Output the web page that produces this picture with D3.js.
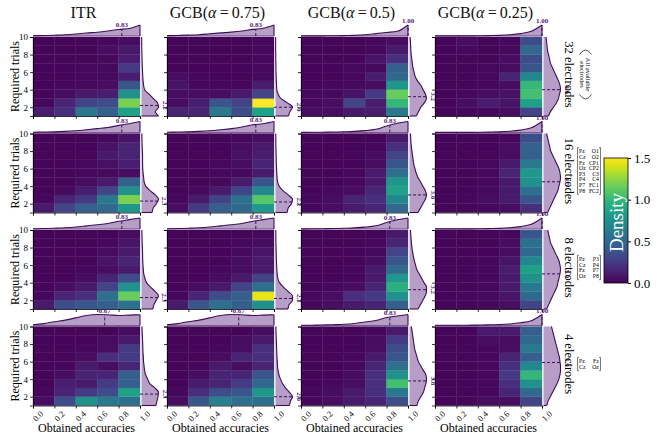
<!DOCTYPE html>
<html><head><meta charset="utf-8">
<script src="https://cdn.jsdelivr.net/npm/d3@7"></script>
<style>body{margin:0;background:#fff}svg text{font-family:"Liberation Serif",serif}</style>
</head><body><svg id="c" width="665" height="440"></svg>
<script>
// ---------- data ----------
const methods = ["ITR", "GCB(α = 0.75)", "GCB(α = 0.5)", "GCB(α = 0.25)"];
const electrodeSets = ["32 electrodes", "16 electrodes", "8 electrodes", "4 electrodes"];
const accTicks = [0.0, 0.2, 0.4, 0.6, 0.8, 1.0];
const trialTicks = [2, 4, 6, 8, 10];
const cbTicks = [0.0, 0.5, 1.0, 1.5];
const accSamples = [0, 0.1, 0.2, 0.3, 0.4, 0.5, 0.6, 0.7, 0.8, 0.9, 1.0];
const trialSamples = [1, 1.5, 2, 2.5, 3, 3.5, 4, 4.5, 5, 5.5, 6, 6.5, 7, 7.5, 8, 8.5, 9, 9.5, 10];
const matrix16 = [["Pz","O1"],["Cz","O2"],["Fz","CP1"],["Oz","CP2"],["P3","C3"],["P4","C4"],["P7","FC1"],["P8","FC2"]];
const matrix8 = [["Pz","P3"],["Cz","P4"],["Fz","P7"],["Oz","P8"]];
const matrix4 = [["Pz","Fz"],["Cz","Oz"]];

// heatmaps: rows = trials 1-2 (bottom) ... 9-10 (top); columns = accuracy bins 0-0.2 ... 0.8-1.0
const heatITR32 = [[0.12,0.20,0.60,0.45,0.85],[0.03,0.15,0.30,0.35,1.20],[0.02,0.05,0.10,0.12,0.75],[0.02,0.03,0.04,0.05,0.40],[0.02,0.02,0.03,0.04,0.12],[0.02,0.02,0.03,0.04,0.25],[0.02,0.02,0.02,0.04,0.12],[0.02,0.02,0.02,0.05,0.10],[0.02,0.02,0.02,0.03,0.05]];
const heatG75_32 = [[0.15,0.15,0.60,0.35,0.85],[0.05,0.12,0.40,0.30,1.50],[0.05,0.05,0.05,0.10,0.30],[0.08,0.03,0.03,0.03,0.12],[0.05,0.03,0.02,0.02,0.04],[0.02,0.02,0.02,0.02,0.03],[0.02,0.02,0.02,0.02,0.03],[0.02,0.02,0.02,0.02,0.03],[0.02,0.02,0.02,0.02,0.03]];
const heatG50_32 = [[0.05,0.05,0.10,0.12,0.60],[0.03,0.05,0.30,0.12,1.00],[0.03,0.04,0.08,0.25,1.15],[0.02,0.03,0.04,0.05,0.80],[0.02,0.02,0.03,0.12,0.50],[0.02,0.02,0.03,0.04,0.45],[0.02,0.02,0.02,0.08,0.20],[0.02,0.02,0.02,0.03,0.10],[0.02,0.02,0.02,0.03,0.05]];
const heatG25_32 = [[0.02,0.03,0.03,0.05,0.30],[0.02,0.05,0.12,0.08,0.85],[0.02,0.03,0.05,0.07,1.05],[0.02,0.02,0.03,0.05,1.00],[0.02,0.02,0.03,0.15,0.70],[0.02,0.02,0.03,0.05,0.40],[0.02,0.02,0.02,0.05,0.35],[0.02,0.03,0.02,0.04,0.50],[0.02,0.05,0.02,0.03,0.35]];

const heatITR16 = [[0.10,0.30,0.45,0.50,0.80],[0.03,0.15,0.25,0.60,1.20],[0.02,0.04,0.12,0.30,0.75],[0.02,0.02,0.05,0.10,0.45],[0.02,0.02,0.03,0.04,0.05],[0.02,0.02,0.03,0.06,0.12],[0.02,0.02,0.02,0.10,0.15],[0.02,0.02,0.02,0.08,0.15],[0.02,0.02,0.02,0.03,0.08]];
const heatG75_16 = [[0.05,0.25,0.45,0.50,0.80],[0.03,0.10,0.30,0.55,1.10],[0.02,0.04,0.10,0.30,0.70],[0.02,0.02,0.04,0.10,0.40],[0.02,0.02,0.03,0.04,0.10],[0.02,0.02,0.03,0.05,0.15],[0.02,0.02,0.02,0.06,0.12],[0.02,0.02,0.02,0.05,0.10],[0.02,0.02,0.02,0.03,0.05]];
const heatG50_16 = [[0.03,0.05,0.10,0.15,0.50],[0.03,0.05,0.15,0.20,0.70],[0.02,0.03,0.05,0.15,0.85],[0.02,0.02,0.03,0.10,0.80],[0.02,0.02,0.03,0.10,0.55],[0.02,0.02,0.02,0.05,0.40],[0.02,0.02,0.02,0.05,0.30],[0.02,0.02,0.02,0.03,0.20],[0.02,0.02,0.02,0.02,0.10]];
const heatG25_16 = [[0.02,0.02,0.03,0.05,0.20],[0.02,0.03,0.05,0.10,0.40],[0.02,0.02,0.04,0.10,0.55],[0.02,0.02,0.03,0.10,0.75],[0.02,0.02,0.03,0.15,0.80],[0.02,0.02,0.03,0.10,0.60],[0.02,0.02,0.02,0.05,0.45],[0.02,0.02,0.02,0.05,0.45],[0.02,0.02,0.02,0.03,0.35]];

const heatITR8 = [[0.10,0.35,0.40,0.45,0.55],[0.03,0.15,0.20,0.55,1.15],[0.02,0.05,0.10,0.30,0.75],[0.02,0.02,0.05,0.15,0.35],[0.02,0.02,0.03,0.05,0.10],[0.02,0.02,0.02,0.08,0.15],[0.02,0.02,0.02,0.05,0.10],[0.02,0.02,0.02,0.03,0.08],[0.02,0.02,0.02,0.02,0.05]];
const heatG75_8 = [[0.10,0.40,0.55,0.45,0.75],[0.03,0.15,0.35,0.45,1.45],[0.02,0.05,0.10,0.30,0.55],[0.02,0.02,0.05,0.10,0.30],[0.02,0.02,0.03,0.05,0.10],[0.02,0.02,0.02,0.05,0.10],[0.02,0.02,0.02,0.04,0.08],[0.02,0.02,0.02,0.03,0.05],[0.02,0.02,0.02,0.02,0.04]];
const heatG50_8 = [[0.03,0.05,0.10,0.15,0.45],[0.03,0.05,0.20,0.25,0.75],[0.02,0.03,0.05,0.15,0.95],[0.02,0.02,0.03,0.10,0.80],[0.02,0.02,0.03,0.10,0.50],[0.02,0.02,0.02,0.05,0.40],[0.02,0.02,0.02,0.04,0.30],[0.02,0.02,0.02,0.03,0.15],[0.02,0.02,0.02,0.02,0.10]];
const heatG25_8 = [[0.02,0.02,0.03,0.05,0.30],[0.02,0.03,0.04,0.08,0.50],[0.02,0.02,0.03,0.10,0.60],[0.02,0.02,0.03,0.10,0.75],[0.02,0.02,0.03,0.12,0.85],[0.02,0.02,0.03,0.08,0.70],[0.02,0.02,0.02,0.05,0.50],[0.02,0.02,0.02,0.05,0.55],[0.02,0.02,0.02,0.03,0.40]];

const heatITR4 = [[0.05,0.35,0.75,0.60,0.55],[0.03,0.15,0.25,0.35,0.85],[0.02,0.12,0.10,0.25,0.45],[0.02,0.05,0.15,0.15,0.45],[0.02,0.03,0.10,0.05,0.15],[0.02,0.02,0.05,0.20,0.25],[0.02,0.02,0.03,0.05,0.25],[0.02,0.02,0.02,0.05,0.10],[0.02,0.02,0.02,0.02,0.05]];
const heatG75_4 = [[0.05,0.40,0.65,0.55,0.55],[0.03,0.20,0.35,0.40,0.80],[0.02,0.10,0.15,0.25,0.50],[0.02,0.05,0.15,0.15,0.40],[0.02,0.03,0.10,0.05,0.15],[0.02,0.02,0.05,0.15,0.20],[0.02,0.02,0.03,0.05,0.20],[0.02,0.02,0.02,0.05,0.10],[0.02,0.02,0.02,0.02,0.05]];
const heatG50_4 = [[0.03,0.05,0.10,0.15,0.35],[0.03,0.05,0.10,0.20,0.60],[0.02,0.03,0.05,0.20,1.05],[0.02,0.02,0.05,0.20,0.75],[0.02,0.02,0.03,0.15,0.55],[0.02,0.02,0.03,0.10,0.40],[0.02,0.02,0.02,0.05,0.35],[0.02,0.02,0.02,0.05,0.25],[0.02,0.02,0.02,0.03,0.10]];
const heatG25_4 = [[0.02,0.02,0.05,0.05,0.30],[0.02,0.02,0.03,0.15,0.50],[0.02,0.02,0.03,0.20,0.75],[0.02,0.02,0.03,0.25,1.00],[0.02,0.02,0.03,0.20,0.70],[0.02,0.02,0.03,0.15,0.45],[0.02,0.02,0.03,0.05,0.60],[0.02,0.02,0.05,0.05,0.50],[0.02,0.02,0.10,0.10,0.45]];

// marginal densities (top: over accSamples, right: over trialSamples)
const topITR32 = [0.3,0.5,0.8,1.2,2.0,3.0,3.8,5.0,6.5,7.5,11];
const topG75_32 = [0.3,0.5,0.8,1.2,2.0,2.8,3.5,4.5,6.0,7.0,10];
const topG50_32 = [0.1,0.1,0.2,0.3,0.5,0.8,1.5,3.0,4.5,6.0,14];
const topG25_32 = [0.1,0.1,0.2,0.2,0.3,0.5,0.8,1.5,3.0,6.0,14];
const topITR16 = [0.2,0.4,0.6,1.0,1.6,2.5,3.5,4.5,6.5,8.0,10];
const topG75_16 = [0.2,0.4,0.6,1.0,1.6,2.5,3.5,5.0,7.0,8.0,10];
const topG50_16 = [0.1,0.2,0.3,0.5,0.8,1.2,2.0,3.5,7.0,10,12];
const topG25_16 = [0.1,0.1,0.2,0.2,0.3,0.5,0.8,1.5,3.0,6.0,14];
const topITR8 = [0.2,0.4,0.7,1.1,1.8,2.8,3.8,5.0,7.0,8.5,10];
const topG75_8 = [0.2,0.4,0.7,1.1,1.8,2.8,3.8,5.0,7.0,8.5,10];
const topG50_8 = [0.1,0.2,0.3,0.5,0.8,1.2,2.0,3.5,7.0,10,12];
const topG25_8 = [0.1,0.1,0.2,0.2,0.3,0.5,0.8,1.5,3.0,6.0,14];
const topITR4 = [0.5,1.2,2.5,3.5,5.0,6.5,7.2,7.0,6.5,6.8,7.0];
const topG75_4 = [0.5,1.2,2.5,3.5,5.0,6.5,7.2,7.0,6.5,6.8,7.0];
const topG50_4 = [0.2,0.3,0.5,0.8,1.2,2.0,3.5,5.0,8.0,9.5,11];
const topG25_4 = [0.3,0.3,0.4,0.4,0.5,0.8,1.2,2.0,3.5,6.0,14];

const rightITR32 = [16,13,16,15,11,7,3,2,1.5,1.2,1,0.8,0.6,0.5,0.4,0.3,0.2,0.2,0.1];
const rightG75_32 = [10,11,13,9,4,2,1,0.8,0.6,0.5,0.4,0.3,0.3,0.2,0.2,0.1,0.1,0.1,0.1];
const rightG50_32 = [6,8,10,13,15,14,12,10,7,5,4,3,2.5,2,1.5,1.2,1,0.8,0.5];
const rightG25_32 = [5,7,10,13,15,16,17,16.5,15,13,11,9,7,6,5,4,3.5,3,2.5];
const rightITR16 = [10,11,14,16,13,8,4,2.5,2,1.5,1.2,1,1,1,0.8,0.6,0.5,0.4,0.3];
const rightG75_16 = [11,12,15,16,12,7,3.5,2,1.5,1.2,1,0.8,0.7,0.6,0.5,0.4,0.3,0.3,0.2];
const rightG50_16 = [7,9,11,13,14,13,11,9,7,5.5,4.5,3.5,3,2.5,2,1.5,1.2,1,0.8];
const rightG25_16 = [4,6,8,10,12,14,15,16,16.5,16,15,13,11,9,7,6,5,4,3];
const rightITR8 = [10,11,13,15,12,8,4.5,3,2,1.6,1.3,1.1,1,0.9,0.8,0.6,0.5,0.4,0.3];
const rightG75_8 = [11,12,15,15,11,7,3.5,2,1.5,1.2,1,0.8,0.7,0.6,0.5,0.4,0.3,0.3,0.2];
const rightG50_8 = [7,9,11,13,14,14,12,10,8,6,5,4,3.2,2.6,2,1.6,1.3,1,0.8];
const rightG25_8 = [3,5,7,9,11,13,14,15,16,16.5,16,15,13,11,9,7,6,5,4];
const rightITR4 = [14,15,16,16.5,13,8,6,4,3,2.5,2,1.8,1.5,1.3,1.2,1,0.8,0.6,0.5];
const rightG75_4 = [14,15,17,14,10,7,5,3.5,2.5,2,1.8,1.5,1.3,1.1,1,0.8,0.6,0.5,0.4];
const rightG50_4 = [6,7,9,11,12,13,13.5,13,11,9,7,6,5,4,3.5,3,2.5,2,1.5];
const rightG25_4 = [3,4,6,8,10,12,13.5,14.5,15,15,14.5,14,13,12,11,10,9,8,7];

const modeAcc = [[0.83,0.83,1.00,1.00],[0.83,0.83,0.83,1.00],[0.83,0.83,0.83,1.00],[0.67,0.67,0.83,1.00]];
const modeTrials = [[2.2,2.0,3.2,4.0],[2.3,2.2,3.0,4.5],[2.3,2.2,3.2,5.0],[2.3,2.0,3.8,5.9]];

const heats = [[heatITR32,heatG75_32,heatG50_32,heatG25_32],[heatITR16,heatG75_16,heatG50_16,heatG25_16],[heatITR8,heatG75_8,heatG50_8,heatG25_8],[heatITR4,heatG75_4,heatG50_4,heatG25_4]];
const tops = [[topITR32,topG75_32,topG50_32,topG25_32],[topITR16,topG75_16,topG50_16,topG25_16],[topITR8,topG75_8,topG50_8,topG25_8],[topITR4,topG75_4,topG50_4,topG25_4]];
const rights = [[rightITR32,rightG75_32,rightG50_32,rightG25_32],[rightITR16,rightG75_16,rightG50_16,rightG25_16],[rightITR8,rightG75_8,rightG50_8,rightG25_8],[rightITR4,rightG75_4,rightG50_4,rightG25_4]];

// ---------- layout ----------
const FONT = "Liberation Serif";
const svg = d3.select("#c");
const colX = [33, 167, 301, 435], W = 107;
const rowY = [37, 133.5, 230, 326.5], H = 79;
const color = d3.scaleSequential(d3.interpolateViridis).domain([0, 1.5]);
const fillC = "#b69ec6", lineC = "#3f0d58", labC = "#5a2382";
const TOPH = 11, RIGHTW = 17;

function interp(xs, ys, v) {
  for (let i = 0; i < xs.length - 1; i++) {
    if (v >= xs[i] && v <= xs[i + 1]) {
      const t = (v - xs[i]) / (xs[i + 1] - xs[i]);
      return ys[i] + t * (ys[i + 1] - ys[i]);
    }
  }
  return ys[ys.length - 1];
}

// titles
methods.forEach((m, c) => {
  const t = svg.append("text").attr("x", colX[c] + W / 2 - 3).attr("y", 18)
    .attr("text-anchor", "middle").attr("font-size", 16).attr("fill", "#111");
  if (m === "ITR") { t.text("ITR"); }
  else {
    const val = m.match(/= (.*)\)/)[1];
    t.append("tspan").text("GCB(");
    t.append("tspan").attr("font-style", "italic").text("α");
    t.append("tspan").text("\u2009=\u2009" + val + ")");
  }
});

for (let r = 0; r < 4; r++) {
  for (let c = 0; c < 4; c++) {
    const x0 = colX[c], y0 = rowY[r];
    const x = d3.scaleLinear().domain([0, 1]).range([x0, x0 + W]);
    const y = d3.scaleLinear().domain([1, 10]).range([y0 + H, y0]);
    const g = svg.append("g");
    const heat = heats[r][c];
    heat.forEach((row, i) => row.forEach((v, j) => {
      g.append("rect").attr("x", x(j * 0.2)).attr("y", y(i + 2))
        .attr("width", x((j + 1) * 0.2) - x(j * 0.2)).attr("height", y(i + 1) - y(i + 2))
        .attr("fill", color(v)).attr("stroke", color(v)).attr("stroke-width", 0.3);
    }));
    // axes
    const ya = g.append("g").attr("transform", `translate(${x0},0)`)
      .call(d3.axisLeft(y).tickValues(trialTicks).tickSize(3).tickPadding(2)
        .tickFormat(c === 0 ? d3.format("d") : ""));
    ya.attr("font-family", FONT);
    ya.selectAll("text").attr("font-size", 9);
    const xa = g.append("g").attr("transform", `translate(0,${y0 + H})`)
      .call(d3.axisBottom(x).tickValues(accTicks).tickSize(3)
        .tickFormat(r === 3 ? d3.format(".1f") : ""));
    xa.attr("font-family", FONT);
    xa.selectAll("text").attr("font-size", 8.5)
      .attr("text-anchor", "end").attr("dx", "0.1em").attr("dy", "0.9em")
      .attr("transform", "rotate(-45)");
    [ya, xa].forEach(a => { a.select(".domain").attr("stroke-width", 0.8); a.selectAll(".tick line").attr("stroke-width", 0.8); });

    // top marginal
    const top = tops[r][c];
    const tmax = d3.max(top);
    const ty = d3.scaleLinear().domain([0, tmax]).range([y0 - 1, y0 - 1 - TOPH]);
    const tpts = accSamples.map((a, i) => [a, top[i]]);
    g.append("path").datum(tpts)
      .attr("d", d3.area().x(d => x(d[0])).y0(ty(0)).y1(d => ty(d[1])).curve(d3.curveMonotoneX))
      .attr("fill", fillC);
    g.append("path").datum(tpts)
      .attr("d", d3.line().x(d => x(d[0])).y(d => ty(d[1])).curve(d3.curveMonotoneX))
      .attr("fill", "none").attr("stroke", lineC).attr("stroke-width", 1.1);
    g.append("line").attr("x1", x(1)).attr("x2", x(1)).attr("y1", ty(0)).attr("y2", ty(top[top.length - 1]))
      .attr("stroke", lineC).attr("stroke-width", 1.1);
    g.append("line").attr("x1", x(0)).attr("x2", x(1)).attr("y1", ty(0)).attr("y2", ty(0))
      .attr("stroke", lineC).attr("stroke-width", 0.6);
    const ma = modeAcc[r][c];
    const mv = interp(accSamples, top, ma);
    g.append("line").attr("x1", x(ma)).attr("x2", x(ma)).attr("y1", ty(0)).attr("y2", ty(mv))
      .attr("stroke", lineC).attr("stroke-width", 1).attr("stroke-dasharray", "3,2");
    g.append("text").attr("x", x(ma)).attr("y", ty(mv) - 2).attr("text-anchor", "middle")
      .attr("font-size", 7).attr("font-weight", "bold").attr("fill", labC).text(ma.toFixed(2));

    // right marginal
    const right = rights[r][c];
    const rmax = d3.max(right);
    const rx = d3.scaleLinear().domain([0, rmax]).range([x0 + W + 1.5, x0 + W + 1.5 + RIGHTW]);
    const rpts = trialSamples.map((t, i) => [t, right[i]]);
    g.append("path").datum(rpts)
      .attr("d", d3.area().y(d => y(d[0])).x0(rx(0)).x1(d => rx(d[1])).curve(d3.curveMonotoneY))
      .attr("fill", fillC);
    g.append("path").datum(rpts)
      .attr("d", d3.line().y(d => y(d[0])).x(d => rx(d[1])).curve(d3.curveMonotoneY))
      .attr("fill", "none").attr("stroke", lineC).attr("stroke-width", 1.1);
    g.append("line").attr("x1", rx(0)).attr("x2", rx(right[0])).attr("y1", y(1)).attr("y2", y(1))
      .attr("stroke", lineC).attr("stroke-width", 1.1);
    const mt = modeTrials[r][c];
    const mw = interp(trialSamples, right, mt);
    g.append("line").attr("x1", x0 + W).attr("x2", rx(mw)).attr("y1", y(mt)).attr("y2", y(mt))
      .attr("stroke", lineC).attr("stroke-width", 1).attr("stroke-dasharray", "3,2");
    g.append("text").attr("transform", `translate(${rx(mw) + 4},${y(mt)}) rotate(90)`)
      .attr("text-anchor", "middle").attr("dy", "-0.1em")
      .attr("font-size", 7).attr("font-weight", "bold").attr("fill", labC).text(mt.toFixed(1));

    if (c === 0) {
      svg.append("text").attr("transform", `translate(${x0 - 14},${y0 + H / 2}) rotate(-90)`)
        .attr("text-anchor", "middle").attr("font-size", 12).text("Required trials");
    }
    if (r === 3) {
      svg.append("text").attr("x", x0 + W / 2).attr("y", 432)
        .attr("text-anchor", "middle").attr("font-size", 12).text("Obtained accuracies");
    }
  }
}

// right-side row labels
const labX = 569;
function rotLabel(txt, cx, cy, size) {
  svg.append("text").attr("transform", `translate(${cx},${cy}) rotate(90)`)
    .attr("text-anchor", "middle").attr("dominant-baseline", "central")
    .attr("font-size", size).text(txt);
}
function matrix(rows, mx, cy) {
  const rh = 5.6, mw = 23;
  const h = rows.length * rh + 2;
  const top = cy - h / 2;
  const mg = svg.append("g");
  rows.forEach((rw, i) => {
    const yy = top + 1 + rh * (i + 0.5);
    mg.append("text").attr("x", mx + 1.6).attr("y", yy).attr("dominant-baseline", "central")
      .attr("font-size", 5.8).text(rw[0]);
    mg.append("text").attr("x", mx + mw - 1.6).attr("y", yy).attr("dominant-baseline", "central")
      .attr("text-anchor", "end").attr("font-size", 5.8).text(rw[1]);
  });
  mg.append("path").attr("d", `M${mx + 1.5},${top}H${mx}V${top + h}H${mx + 1.5}`).attr("fill", "none").attr("stroke", "#222").attr("stroke-width", 0.6);
  mg.append("path").attr("d", `M${mx + mw - 1.5},${top}H${mx + mw}V${top + h}H${mx + mw - 1.5}`).attr("fill", "none").attr("stroke", "#222").attr("stroke-width", 0.6);
}
rowY.forEach((y0, r) => {
  rotLabel(electrodeSets[r], labX, y0 + H / 2 - 2, 12.5);
});
// 32: (All available electrodes)
{
  const cy = rowY[0] + H / 2 - 2;
  const px = 585.5;
  svg.append("text").attr("transform", `translate(${px + 3},${cy}) rotate(90)`).attr("text-anchor", "middle")
    .attr("dominant-baseline", "central").attr("font-size", 6.5).text("All available");
  svg.append("text").attr("transform", `translate(${px - 3},${cy}) rotate(90)`).attr("text-anchor", "middle")
    .attr("dominant-baseline", "central").attr("font-size", 6.5).text("electrodes");
  svg.append("path").attr("d", `M${px - 6},${cy - 20} Q${px},${cy - 29} ${px + 6},${cy - 20}`)
    .attr("fill", "none").attr("stroke", "#222").attr("stroke-width", 0.8);
  svg.append("path").attr("d", `M${px - 6},${cy + 20} Q${px},${cy + 29} ${px + 6},${cy + 20}`)
    .attr("fill", "none").attr("stroke", "#222").attr("stroke-width", 0.8);
}
matrix(matrix16, 577.5, rowY[1] + H / 2 - 2);
matrix(matrix8, 577.5, rowY[2] + H / 2 - 2);
matrix(matrix4, 577.5, rowY[3] + H / 2 - 2);

// colorbar
const cbX = 604, cbW = 24, cbY = 158, cbH = 125;
const defs = svg.append("defs");
const grad = defs.append("linearGradient").attr("id", "vir").attr("x1", 0).attr("x2", 0).attr("y1", 1).attr("y2", 0);
d3.range(0, 1.0001, 0.05).forEach(t => grad.append("stop").attr("offset", t).attr("stop-color", d3.interpolateViridis(t)));
svg.append("rect").attr("x", cbX).attr("y", cbY).attr("width", cbW).attr("height", cbH)
  .attr("fill", "url(#vir)").attr("stroke", "#000").attr("stroke-width", 0.8);
const cbs = d3.scaleLinear().domain([0, 1.5]).range([cbY + cbH, cbY]);
const cba = svg.append("g").attr("transform", `translate(${cbX + cbW},0)`)
  .call(d3.axisRight(cbs).tickValues(cbTicks).tickSize(3).tickPadding(3).tickFormat(d3.format(".1f")));
cba.attr("font-family", FONT);
cba.select(".domain").remove();
cba.selectAll("text").attr("font-size", 13);
svg.append("text").attr("transform", `translate(${cbX + cbW / 2},${cbY + cbH / 2 + 2}) rotate(-90)`)
  .attr("text-anchor", "middle").attr("dominant-baseline", "central")
  .attr("font-size", 19).attr("fill", "#fff").text("Density");
</script></body></html>
